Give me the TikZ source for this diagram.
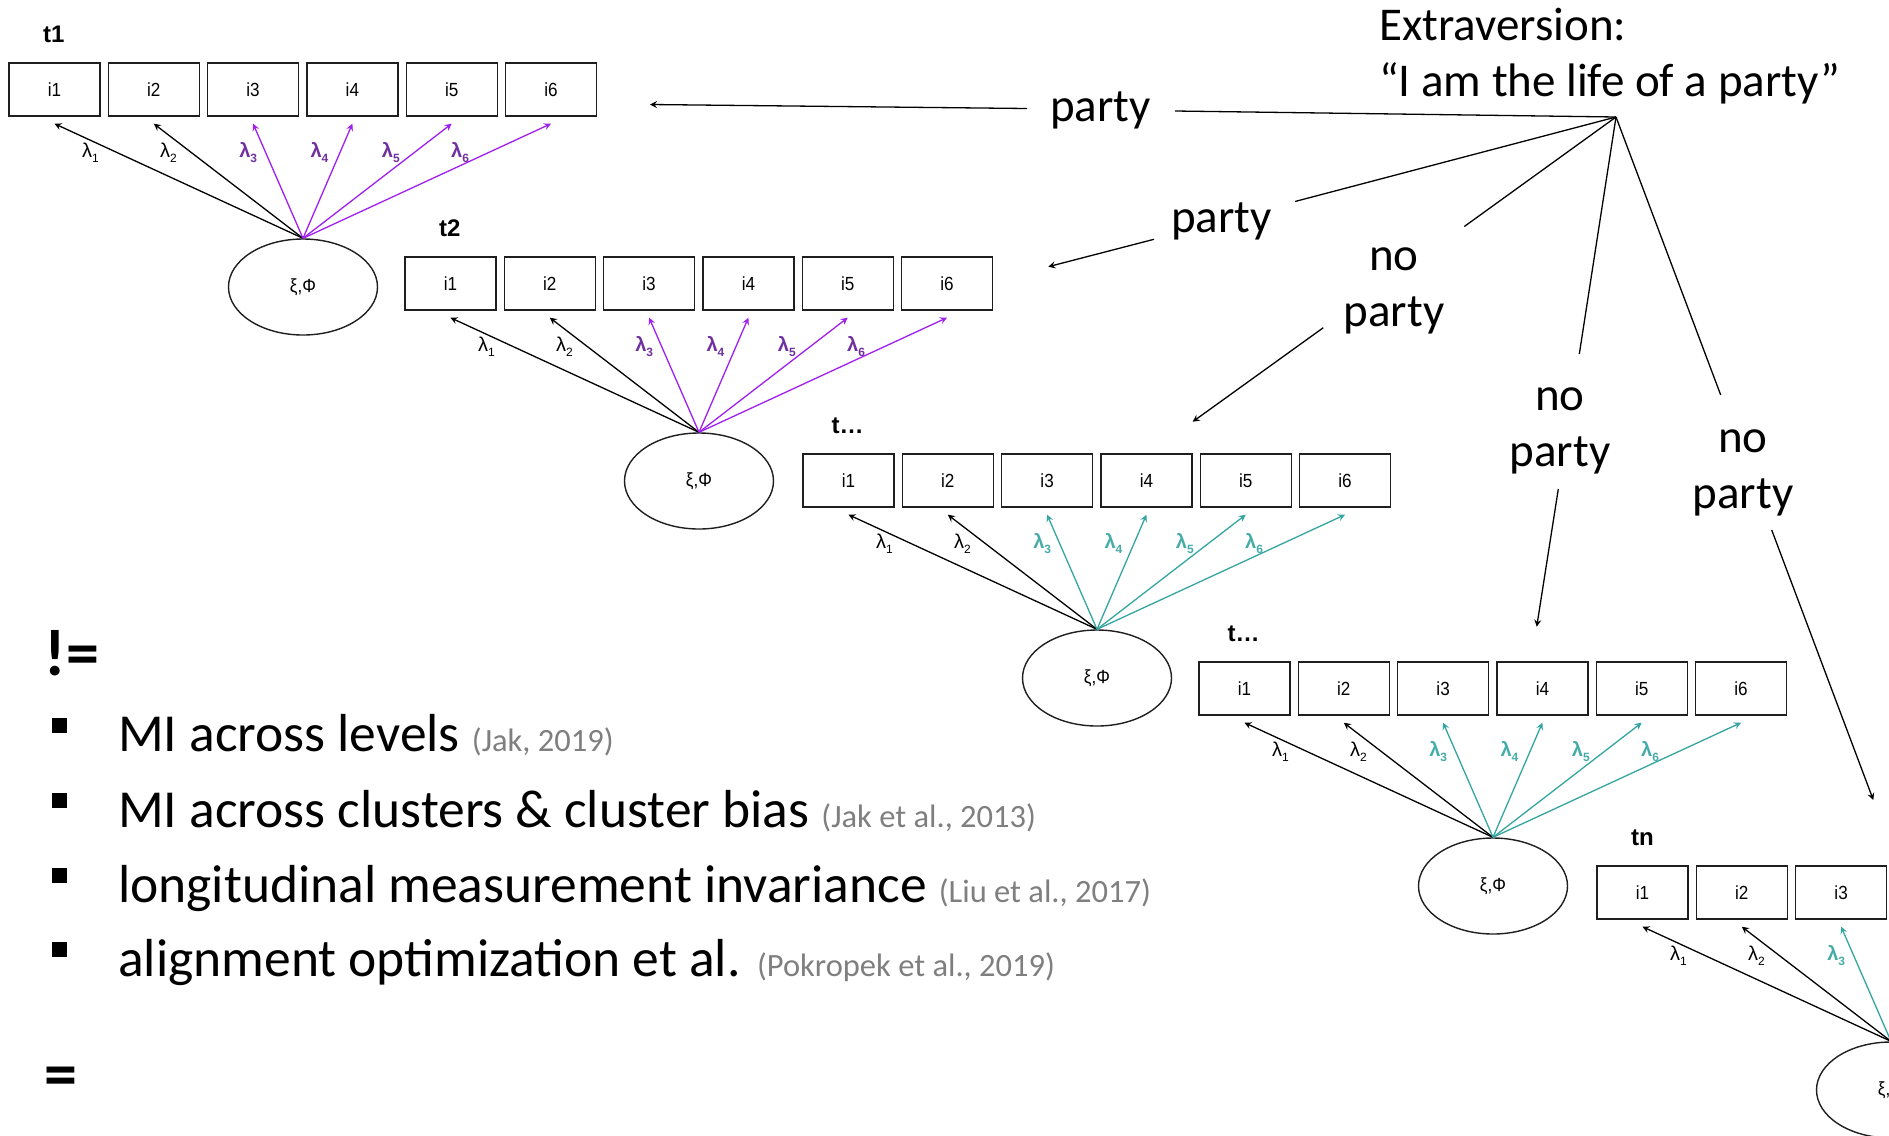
\documentclass[tikz,border=0pt]{standalone}
\usepackage{fontspec}
\usepackage{graphicx}
\setmainfont{Carlito}
\newfontfamily\diagfont{Liberation Sans}
\usetikzlibrary{arrows.meta,shapes.geometric}

\definecolor{loadviolet}{HTML}{A020F0}
\definecolor{labviolet}{HTML}{7030A0}
\definecolor{loadteal}{HTML}{35A5A1}
\definecolor{labteal}{HTML}{45ADA8}
\definecolor{citegray}{HTML}{7F7F7F}

% slightly condensed diagram text
\newcommand\narrowtxt[1]{\scalebox{0.9}[1]{#1}}
% loading symbol with its index
\newcommand\lamsub[1]{λ\raisebox{-5bp}{\fontsize{12bp}{12bp}\selectfont #1}}
\newcommand\citetxt[1]{{\fontsize{32.5bp}{36bp}\selectfont\color{citegray}#1}}

\tikzset{
  item/.style={draw=black!88, line width=1.4bp, minimum width=91bp, minimum height=53bp,
    inner sep=0pt, font=\diagfont\fontsize{19bp}{19bp}\selectfont},
  latent/.style={ellipse, draw=black!88, line width=1.4bp, minimum width=149bp,
    minimum height=96bp, inner sep=0pt, font=\diagfont\fontsize{19bp}{19bp}\selectfont},
  timelab/.style={anchor=base west, inner sep=0pt,
    font=\diagfont\bfseries\fontsize{24bp}{24bp}\selectfont},
  lamlab/.style={anchor=base west, inner sep=0pt,
    font=\diagfont\fontsize{20bp}{20bp}\selectfont},
  load/.style={line width=1.3bp, -{Stealth[length=7bp,width=7bp,inset=2.5bp]}},
  tree/.style={inner sep=0pt, font=\fontsize{47bp}{56bp}\selectfont},
  tline/.style={line width=1.3bp},
  tarrow/.style={line width=1.3bp, -{Stealth[length=7bp,width=7bp,inset=2.5bp]}},
  bullettext/.style={anchor=base west, inner sep=0pt, font=\fontsize{53.5bp}{60bp}\selectfont},
  bulletmark/.style={fill=black, inner sep=0pt, minimum size=15bp},
  signtext/.style={anchor=base west, inner sep=0pt, font=\bfseries\fontsize{66bp}{70bp}\selectfont}
}

% one measurement model: name, x of first item, y of item row, arrow colour,
% label colour, time label, label offset, number of items
\newcommand\mgroup[8]{%
  \node[latent] (#1e) at (#2+294,#3+224) {\narrowtxt{ξ,Φ}};
  \node[timelab] (#1t) at (#2+#7,#3-20.5) {#6};
  \foreach \j/\dx in {1/27.5,2/6,3/-14,4/-42,5/-70,6/-100}{%
    \ifnum\j>#8\relax\else
      \node[item] (#1i\j) at ({#2+45.5+99.3*(\j-1)},#3+26.5) {\narrowtxt{i\j}};
      \ifnum\j<3
        \draw[load] (#1e.north) -- ([yshift=-7bp]#1i\j.south);
        \node[lamlab] (#1l\j) at ([xshift=\dx bp,yshift=-40.7bp]#1i\j.south) {\lamsub{\j}};
      \else
        \draw[load,draw=#4] (#1e.north) -- ([yshift=-7bp]#1i\j.south);
        \node[lamlab,text=#5,font=\diagfont\bfseries\fontsize{20bp}{20bp}\selectfont]
          (#1l\j) at ([xshift=\dx bp,yshift=-40.7bp]#1i\j.south) {\lamsub{\j}};
      \fi
    \fi
  }%
}

\begin{document}
\begin{tikzpicture}[x=1bp,y=-1bp]
\useasboundingbox (0,0) rectangle (1889,1135);
\fill[white] (0,0) rectangle (1889,1135);
\clip (0,0) rectangle (1889,1135);

% measurement models over time
\mgroup{A}{9}{63}{loadviolet}{labviolet}{t1}{34}{6}
\mgroup{B}{405}{257}{loadviolet}{labviolet}{t2}{34}{6}
\mgroup{C}{803}{454}{loadteal}{labteal}{t…}{28.5}{6}
\mgroup{D}{1199}{662}{loadteal}{labteal}{t…}{28.5}{6}
\mgroup{E}{1597}{866}{loadteal}{labteal}{tn}{34}{3}

% item and its answers (multi-line nodes sit on their last baseline)
\node[tree, anchor=base west, align=left] (title) at (1379,96.7)
  {Extraversion:\\“I am the life of a party”};
\coordinate (apex) at (1616,117);

\node[tree, anchor=base west] (ans1) at (1050,121) {party};
\node[tree, anchor=base west] (ans2) at (1171,232) {party};
\node[tree, anchor=base, align=center] (ans3) at (1394,326.7) {no\\party};
\node[tree, anchor=base, align=center] (ans4) at (1560,466.7) {no\\party};
\node[tree, anchor=base, align=center] (ans5) at (1743,508.3) {no\\party};

\coordinate (l1) at (1175,111);
\coordinate (l2) at (1295,201.5);
\coordinate (l3) at (1464.3,226.5);
\coordinate (l4) at (1579.3,354);
\coordinate (l5) at (1720.7,395);
\foreach \k in {1,...,5} \draw[tline] (apex) -- (l\k);

\coordinate (s1) at (1027,108.5);   \coordinate (e1) at (650,104.5);
\coordinate (s2) at (1154,239.3);   \coordinate (e2) at (1048.3,266.7);
\coordinate (s3) at (1323.3,327.7); \coordinate (e3) at (1192.7,421.7);
\coordinate (s4) at (1558.3,489);   \coordinate (e4) at (1536.7,626.7);
\coordinate (s5) at (1771.7,530);   \coordinate (e5) at (1873.3,800);
\foreach \k in {1,...,5} \draw[tarrow] (s\k) -- (e\k);

% invariance approaches
\node[signtext] (neq) at (44.5,675) {!=};
\node[bulletmark] (bm1) at (59.5,725.3) {};
\node[bullettext] (m1) at (118,751.8) {MI across levels \citetxt{(Jak, 2019)}};
\node[bulletmark] (bm2) at (59.5,800.5) {};
\node[bullettext] (m2) at (118,827) {MI across clusters \& cluster bias \citetxt{(Jak et al., 2013)}};
\node[bulletmark] (bm3) at (59.5,875.5) {};
\node[bullettext] (m3) at (118,902) {longitudinal measurement invariance \citetxt{(Liu et al., 2017)}};
\node[bulletmark] (bm4) at (59.5,949.5) {};
\node[bullettext] (m4) at (118,976) {alignment optimization et al. \citetxt{(Pokropek et al., 2019)}};
\node[signtext] (eq) at (44.5,1096) {=};
\end{tikzpicture}
\end{document}
